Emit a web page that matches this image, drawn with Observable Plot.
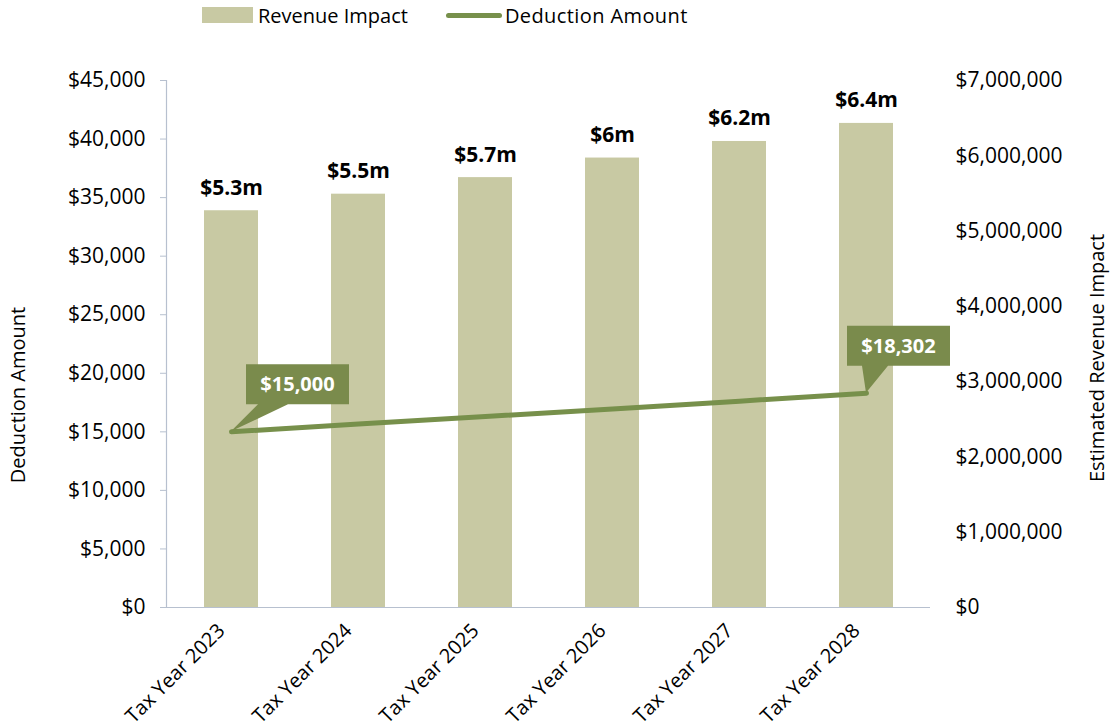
<!DOCTYPE html>
<html>
<head>
<meta charset="utf-8">
<script src="https://cdn.jsdelivr.net/npm/d3@7"></script>
<script src="https://cdn.jsdelivr.net/npm/@observablehq/plot@0.6"></script>
<style>
  html, body { margin: 0; padding: 0; background: #fff; }
  body { width: 1111px; height: 727px; overflow: hidden; font-family: "Open Sans", sans-serif; }
  #legend { height: 30px; display: flex; align-items: center; font-size: 20px; color: #000; padding-left: 202px; box-sizing: border-box; }
  .item { display: flex; align-items: center; }
  .sw-bar { width: 51px; height: 16px; background: #c8c9a3; margin-right: 5px; }
  .sw-line { width: 56px; height: 5px; border-radius: 3px; background: #77904b; margin-right: 3px; }
</style>
</head>
<body>
<div id="legend">
  <div class="item"><span class="sw-bar"></span><span>Revenue Impact</span></div>
  <div class="item" style="margin-left:38px"><span class="sw-line"></span><span style="letter-spacing:0.4px">Deduction Amount</span></div>
</div>
<div id="chart"></div>
<script>
const years = ["Tax Year 2023", "Tax Year 2024", "Tax Year 2025", "Tax Year 2026", "Tax Year 2027", "Tax Year 2028"];
const revenue = [5270000, 5490000, 5710000, 5970000, 6190000, 6430000];
const deduction = [15000, 15660, 16310, 16960, 17620, 18302];
const leftTicks = [0, 5000, 10000, 15000, 20000, 25000, 30000, 35000, 40000, 45000];
const rightTicks = [0, 1000000, 2000000, 3000000, 4000000, 5000000, 6000000, 7000000];
const calloutYears = ["Tax Year 2023", "Tax Year 2028"];

const LEFT_MAX = 45000, RIGHT_MAX = 7000000;
const k = LEFT_MAX / RIGHT_MAX;
const data = years.map((year, i) => ({year, revenue: revenue[i], deduction: deduction[i]}));
const callouts = data.filter(d => calloutYears.includes(d.year));

const BAR = "#c8c9a3", LINE = "#77904b", BOX = "#7a8b4c", AXIS = "#b7c0cf";
const money = d3.format("$,");
const barLabel = v => "$" + d3.format(".1f")(v / 1e6).replace(/\.0$/, "") + "m";

function calloutMark(index, scales, values, dimensions) {
  const g = d3.create("svg:g");
  const bwRaw = scales.x.bandwidth;
  const bw = typeof bwRaw === "function" ? bwRaw() : (bwRaw || 0);
  callouts.forEach((d, i) => {
    const px = scales.x(d.year) + bw / 2;
    const py = scales.y(d.deduction);
    const first = i === 0;
    const w = 103, h = 40;
    const bx = first ? px + 15 : px - 19;
    const by = py - 27 - h;
    const t0 = first ? px + 27 : px - 4;
    const t1 = first ? px + 57 : px + 22;
    g.append("path")
      .attr("d", `M${px},${py}L${t0},${by + h}L${bx},${by + h}L${bx},${by}L${bx + w},${by}L${bx + w},${by + h}L${t1},${by + h}Z`)
      .attr("fill", BOX);
    g.append("text")
      .attr("x", bx + w / 2).attr("y", by + h / 2)
      .attr("dy", "0.35em")
      .attr("text-anchor", "middle")
      .attr("fill", "#fff")
      .attr("font-weight", "bold")
      .attr("font-size", 20)
      .text(money(d.deduction));
  });
  return g.node();
}

const chart = Plot.plot({
  width: 1111,
  height: 697,
  marginLeft: 166,
  marginRight: 181,
  marginTop: 50,
  marginBottom: 120,
  style: {fontFamily: "Open Sans, sans-serif", fontSize: "20px", color: "#000", background: "#fff"},
  x: {domain: years, paddingInner: 0.575, paddingOuter: 0.2875, label: null},
  y: {domain: [0, LEFT_MAX], label: null},
  marks: [
    Plot.barY(data, {x: "year", y: d => d.revenue * k, fill: BAR}),
    Plot.ruleY([0], {stroke: AXIS, strokeWidth: 1.2}),
    Plot.frame({anchor: "left", stroke: AXIS, strokeWidth: 1.2}),
    Plot.axisY(leftTicks, {anchor: "left", tickSize: 6, tickPadding: 15, stroke: AXIS, tickFormat: money, fontSize: 21, label: null}),
    Plot.axisY(rightTicks.map(v => v * k), {anchor: "right", tickSize: 0, tickPadding: 25, tickFormat: v => money(Math.round(v / k)), fontSize: 21, label: null}),
    Plot.axisX({tickRotate: -45, tickSize: 0, tickPadding: 20, dx: -10, fontSize: 20, label: null}),
    Plot.text(data, {x: "year", y: d => d.revenue * k, text: d => barLabel(d.revenue), dy: -16, lineAnchor: "bottom", fontWeight: "bold", fontSize: 21, fill: "#000"}),
    Plot.text(["Deduction Amount"], {frameAnchor: "left", textAnchor: "middle", dx: -148, dy: 51, rotate: -90, fontSize: 20, fill: "#000"}),
    Plot.text(["Estimated Revenue Impact"], {frameAnchor: "right", textAnchor: "middle", dx: 167, dy: 14, rotate: -90, fontSize: 20, fill: "#000"}),
    Plot.lineY(data, {x: "year", y: "deduction", stroke: LINE, strokeWidth: 5, strokeLinecap: "round", strokeLinejoin: "round"}),
    calloutMark
  ]
});
document.getElementById("chart").appendChild(chart);
</script>
</body>
</html>
